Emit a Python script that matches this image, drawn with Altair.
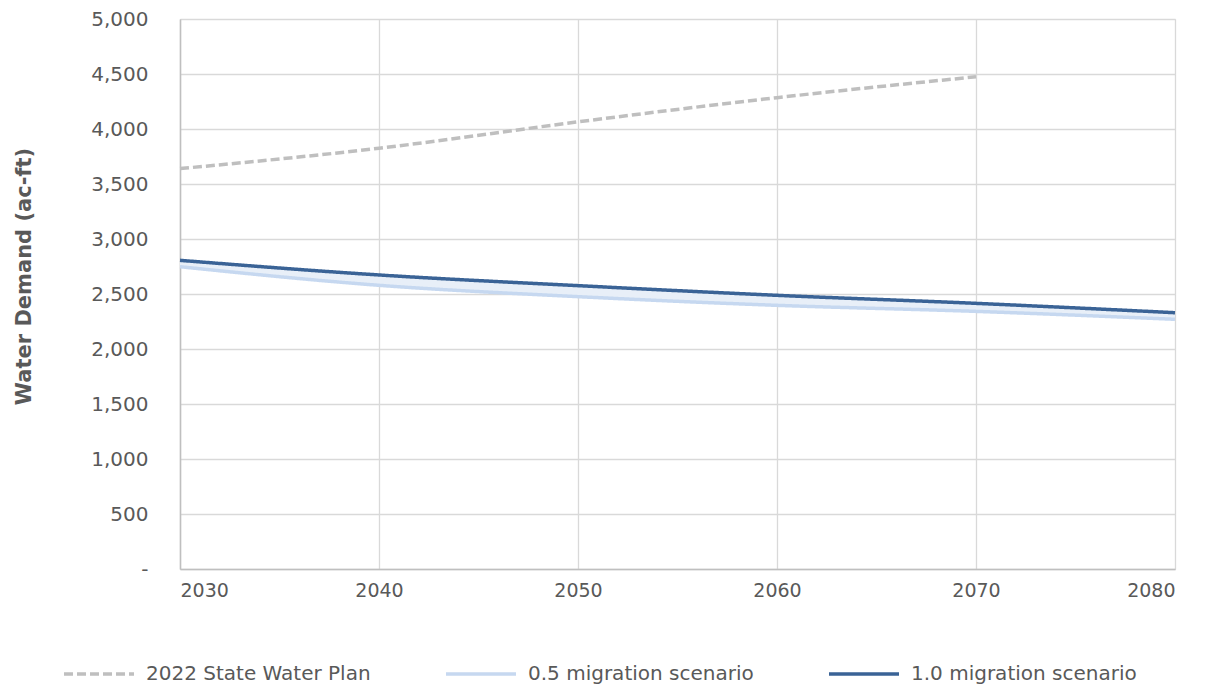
import altair as alt
import pandas as pd

years = [2030, 2040, 2050, 2060, 2070, 2080]
state_plan = [3640, 3825, 4065, 4285, 4475, None]
mig_05 = [2748, 2579, 2476, 2397, 2342, 2270]
mig_10 = [2806, 2673, 2576, 2488, 2415, 2330]

series_names = ["2022 State Water Plan", "0.5 migration scenario", "1.0 migration scenario"]
series_colors = ["#BFBFBF", "#C6D8F0", "#3A6396"]
series_dash = [[9, 4], [1, 0], [1, 0]]
y_ticks = [0, 500, 1000, 1500, 2000, 2500, 3000, 3500, 4000, 4500, 5000]

rows = []
for name, vals in zip(series_names, [state_plan, mig_05, mig_10]):
    for yr, v in zip(years, vals):
        if v is not None:
            rows.append({"year": yr, "demand": v, "series": name})
long_df = pd.DataFrame(rows)
band_df = pd.DataFrame({"year": years, "low": mig_05, "high": mig_10})

FONT = "DejaVu Sans"
TXT = "#595959"
GRID = "#D9D9D9"

x_enc = alt.X(
    "year:Q",
    scale=alt.Scale(domain=[2030, 2080], nice=False, zero=False),
    axis=alt.Axis(
        values=years, format="d", title=None, grid=True, gridColor=GRID, gridWidth=1.3,
        domainColor="#BFBFBF", domainWidth=1.5, ticks=False, labelPadding=12,
        labelFontSize=19, labelColor=TXT, labelFont=FONT,
    ),
)

legend_cfg = dict(
    title=None, orient="none", legendX=-118, legendY=618, direction="horizontal",
    columns=3, symbolType="stroke", symbolSize=4900, symbolStrokeWidth=3.5,
    labelFont=FONT, labelFontSize=20, labelColor=TXT, labelOffset=10,
    columnPadding=68, labelLimit=400,
)

band = alt.Chart(band_df).mark_area(color="#E8EFF8", interpolate="monotone").encode(
    x=x_enc,
    y=alt.Y("low:Q"),
    y2="high:Q",
)

lines = alt.Chart(long_df).mark_line(strokeWidth=3.5, interpolate="monotone").encode(
    x=x_enc,
    y=alt.Y(
        "demand:Q",
        scale=alt.Scale(domain=[0, 5000], nice=False),
        axis=alt.Axis(
            values=y_ticks, grid=True, gridColor=GRID, gridWidth=1.3,
            domainColor="#BFBFBF", domainWidth=1.5, ticks=False, labelPadding=32,
            labelFontSize=20, labelColor=TXT, labelFont=FONT,
            labelExpr="datum.value == 0 ? '-\u00a0\u00a0' : format(datum.value, ',')",
            title="Water Demand (ac-ft)", titleFont=FONT, titleFontSize=21,
            titleFontWeight="bold", titleColor=TXT, titleAngle=270,
            titleX=-156, titleY=257, titleAlign="center", titleBaseline="middle",
        ),
    ),
    color=alt.Color(
        "series:N",
        scale=alt.Scale(domain=series_names, range=series_colors),
        sort=series_names,
        legend=alt.Legend(**legend_cfg),
    ),
    strokeDash=alt.StrokeDash(
        "series:N",
        scale=alt.Scale(domain=series_names, range=series_dash),
        sort=series_names,
        legend=alt.Legend(**legend_cfg),
    ),
    order=alt.Order("series:N"),
)

chart = alt.layer(band, lines).properties(
    width=995,
    height=550,
    autosize=alt.AutoSizeParams(type="none"),
    padding={"left": 172, "top": 11, "right": 30, "bottom": 118},
).configure_view(stroke=None).configure(background="white")

chart.save("out.html", embed_options={"renderer": "svg", "actions": False})
